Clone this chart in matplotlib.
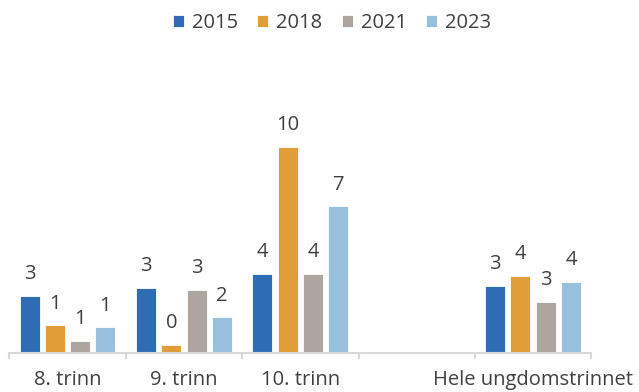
import matplotlib
matplotlib.use('Agg')

import matplotlib.pyplot as plt
import numpy as np

# --- Data ---
categories = ['8. trinn', '9. trinn', '10. trinn', '', 'Hele ungdomstrinnet']
years = ['2015', '2018', '2021', '2023']
v2015 = [2.9, 3.3, 4.0, np.nan, 3.4]
v2018 = [1.4, 0.4, 10.4, np.nan, 3.9]
v2021 = [0.6, 3.2, 4.0, np.nan, 2.6]
v2023 = [1.3, 1.8, 7.4, np.nan, 3.6]
series = [v2015, v2018, v2021, v2023]

colors = ['#2E6DB4', '#E19D38', '#ADA59F', '#96C0DC']
text_color = '#404040'
FS = 14.5

plt.rcParams['font.family'] = ['Open Sans', 'DejaVu Sans']

fig = plt.figure(figsize=(6.39, 3.92), dpi=100)
W, H = 639, 392
ax = fig.add_axes([9.3 / W, (H - 353) / H, (591.3 - 9.3) / W, (353 - 50) / H])

x = np.arange(len(categories))
bar_w = 0.172
step = 0.217
offsets = (np.arange(len(years)) - 1.5) * step

for vals, off, col, yr in zip(series, offsets, colors, years):
    ax.bar(x + off, vals, width=bar_w, color=col, edgecolor='white',
           linewidth=0.6, label=yr)
    for xi, v in zip(x + off, vals):
        if np.isnan(v):
            continue
        ax.annotate(f'{v:.0f}', (xi, v), xytext=(0, 12), textcoords='offset points',
                    ha='center', va='baseline', fontsize=FS, color=text_color)

ax.set_xlim(-0.5, len(categories) - 0.5)
ax.set_ylim(0, 303 / 19.8)

# axis styling: only a light bottom line with ticks between categories
for side in ['top', 'right', 'left']:
    ax.spines[side].set_visible(False)
ax.spines['bottom'].set_color('#D9D9D9')
ax.spines['bottom'].set_linewidth(1.5)
ax.set_yticks([])
ax.set_xticks(x)
ax.set_xticklabels(categories, fontsize=FS, color=text_color)
ax.tick_params(axis='x', which='major', length=0, pad=12.5)
ax.set_xticks(np.arange(-0.5, len(categories)), minor=True)
ax.tick_params(axis='x', which='minor', length=4, width=1.5, color='#D9D9D9')

fig.legend(loc='center', bbox_to_anchor=(332 / W, 1 - 23 / H), ncol=4, frameon=False,
           fontsize=FS, handlelength=0.55, handleheight=0.55, handletextpad=0.4,
           columnspacing=0.95, labelcolor=text_color)

fig.savefig('out.png', dpi=100)
